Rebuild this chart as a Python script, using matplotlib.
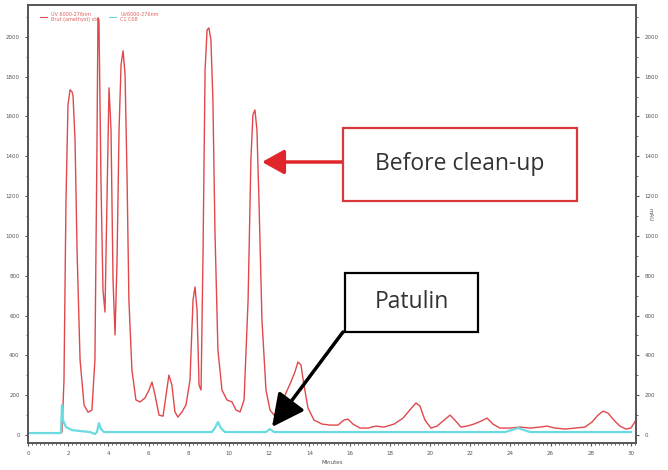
import matplotlib
matplotlib.use("Agg")
import matplotlib.pyplot as plt
from matplotlib.patches import Rectangle
from matplotlib.lines import Line2D
from matplotlib.ticker import MultipleLocator

# Red trace: before clean-up (time in minutes, signal in mAU)
red_time = [1.69, 1.79, 1.89, 1.99, 2.09, 2.19, 2.24, 2.34, 2.44, 2.59, 2.79, 2.99, 3.18,
            3.33, 3.43, 3.48, 3.53, 3.63, 3.73, 3.83, 3.93, 4.03, 4.13, 4.23, 4.33, 4.43,
            4.53, 4.63, 4.73, 4.83, 4.93, 5.02, 5.17, 5.37, 5.57, 5.82, 6.02, 6.17, 6.32,
            6.52, 6.72, 6.87, 7.01, 7.16, 7.31, 7.46, 7.66, 7.86, 8.06, 8.21, 8.31, 8.41,
            8.51, 8.61, 8.71, 8.81, 8.91, 9.00, 9.10, 9.20, 9.30, 9.45, 9.65, 9.90, 10.15,
            10.35, 10.55, 10.75, 10.95, 11.09, 11.19, 11.29, 11.39, 11.49, 11.64, 11.84,
            12.04, 12.24, 12.49, 12.79, 13.08, 13.28, 13.43, 13.58, 13.73, 13.93, 14.23,
            14.63, 15.02, 15.42, 15.72, 15.92, 16.17, 16.52, 16.92, 17.31, 17.71, 18.21,
            18.66, 19.00, 19.30, 19.50, 19.75, 20.05, 20.35, 20.70, 21.00, 21.24, 21.54,
            21.84, 22.19, 22.54, 22.84, 23.13, 23.48, 23.98, 24.48, 24.98, 25.47, 25.82,
            26.22, 26.72, 27.21, 27.71, 28.06, 28.36, 28.61, 28.86, 29.15, 29.45, 29.75,
            30.00, 30.25]
red_signal = [15, 276, 1180, 1658, 1734, 1724, 1704, 1482, 930, 377, 150, 115, 125,
              377, 1432, 2095, 2085, 1281, 729, 618, 1181, 1744, 1533, 779, 503, 879,
              1533, 1859, 1930, 1809, 1281, 678, 327, 176, 166, 186, 226, 266, 201,
              100, 95, 201, 301, 251, 116, 90, 116, 151, 276, 678, 744, 628,
              251, 226, 930, 1834, 2035, 2045, 1985, 1683, 1030, 427, 226, 176, 166,
              126, 116, 176, 678, 1382, 1608, 1633, 1533, 1181, 578, 226,
              126, 100, 126, 201, 266, 317, 367, 352, 251, 136, 75,
              55, 50, 50, 75, 80, 55, 35, 35, 45, 40, 55,
              85, 126, 161, 146, 75, 35, 45, 75, 100, 75, 40,
              45, 55, 70, 85, 55, 35, 35, 40, 35, 40, 45,
              35, 30, 35, 40, 65, 100, 120, 110, 75, 45, 30,
              35, 75]

# Cyan trace: after clean-up
cyan_time = [0.0, 1.64, 1.69, 1.74, 1.89, 2.19, 2.59, 3.08, 3.33, 3.43, 3.53, 3.63, 3.78,
             9.15, 9.30, 9.45, 9.60, 9.80, 11.84, 12.04, 12.24, 23.73, 24.08, 24.38,
             24.68, 24.98, 30.0]
cyan_signal = [10, 10, 150, 75, 40, 25, 20, 15, 5, 15, 60, 30, 15,
               15, 35, 65, 35, 15, 15, 30, 15, 15, 25, 35,
               25, 15, 15]

x_ticks = list(range(0, 31, 2))
y_ticks = list(range(0, 2001, 200))

red = "#e0484c"
cyan = "#6adbe0"

fig = plt.figure(figsize=(6.68, 4.70), dpi=100)
ax = fig.add_axes([28 / 668, 27 / 470, 608 / 668, 438 / 470])

ax.plot(red_time, red_signal, color=red, lw=1.0)
ax.plot(cyan_time, cyan_signal, color=cyan, lw=1.6)

ax.set_xlim(0, 30.25)
ax.set_ylim(-40, 2160)
ax.set_xticks(x_ticks)
ax.set_yticks(y_ticks)
ax.xaxis.set_minor_locator(MultipleLocator(0.2))
ax.yaxis.set_minor_locator(MultipleLocator(100))
ax.tick_params(which="both", direction="out", colors="#555555", labelsize=4,
               right=True, labelright=True, length=2.5, width=0.8)
ax.tick_params(which="minor", length=1.5, width=0.6)
for s in ax.spines.values():
    s.set_color("#555555")
    s.set_linewidth(1.4)

ax.set_xlabel("Minutes", fontsize=4, color="#555555", labelpad=3)
fig.text(650 / 668, 1 - 215 / 470, "mAU", rotation=270, fontsize=4,
         color="#555555", ha="center", va="center")

# small instrument legend
handles = [Line2D([], [], color=red, lw=0.8), Line2D([], [], color=cyan, lw=0.8)]
ax.legend(handles, ["UV 6000-276nm\nBrut (amethyst) std", "UV6000-276nm\nC1 C08"],
          loc="upper left", bbox_to_anchor=(0.012, 0.995), ncol=2, frameon=False,
          fontsize=3.5, labelcolor="#e06060", handlelength=1.5, columnspacing=2.0)

# annotation boxes (figure pixel positions)
def box(x0, y0, x1, y1, edge, label):
    fig.add_artist(Rectangle((x0 / 668, 1 - y1 / 470), (x1 - x0) / 668, (y1 - y0) / 470,
                             transform=fig.transFigure, fill=True, facecolor="white",
                             edgecolor=edge, lw=1.6))
    fig.text((x0 + x1) / 2 / 668, 1 - (y0 + y1) / 2 / 470, label, fontsize=16.5,
             family="Open Sans", color="#333333", ha="center", va="center")


box(343, 128, 577, 201, "#d9383c", "Before clean-up")
box(345, 273, 478, 332, "black", "Patulin")

ax.annotate("", xy=(262, 470 - 162), xytext=(343, 470 - 162), xycoords="figure pixels",
            arrowprops=dict(arrowstyle="-|>,head_length=0.9,head_width=0.5",
                            mutation_scale=15, lw=2.5, color="#e0262a",
                            shrinkA=0, shrinkB=0))
ax.annotate("", xy=(272, 470 - 427), xytext=(343, 470 - 332), xycoords="figure pixels",
            arrowprops=dict(arrowstyle="-|>,head_length=1.1,head_width=0.55",
                            mutation_scale=18, lw=2.5, color="black",
                            shrinkA=0, shrinkB=0))

fig.savefig("out.png", dpi=100)
plt.close(fig)
